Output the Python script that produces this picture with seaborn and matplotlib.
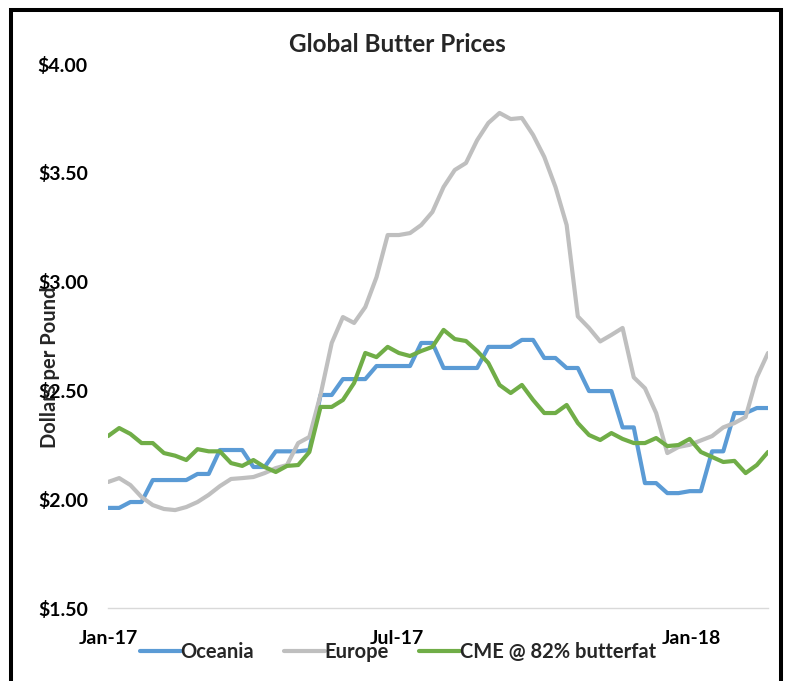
import pandas as pd
import seaborn as sns
import matplotlib.pyplot as plt
import matplotlib.dates as mdates
from matplotlib.lines import Line2D
from matplotlib.patches import Rectangle

sns.set_style("white")
plt.rcParams['font.family'] = ['Lato', 'DejaVu Sans']
plt.rcParams['font.weight'] = 'bold'

# ======================
# weekly prices, $/lb (first week Jan 2017 -> mid Feb 2018)

start_date = '2017-01-01'

oceania = [1.96, 1.96, 1.987, 1.987, 2.088, 2.088, 2.088, 2.088, 2.116, 2.116,
           2.226, 2.226, 2.226, 2.148, 2.148, 2.22, 2.22, 2.22, 2.226, 2.479,
           2.479, 2.552, 2.552, 2.552, 2.612, 2.612, 2.612, 2.612, 2.718, 2.718,
           2.603, 2.603, 2.603, 2.603, 2.70, 2.70, 2.70, 2.732, 2.732, 2.649,
           2.649, 2.603, 2.603, 2.497, 2.497, 2.497, 2.33, 2.33, 2.074, 2.074,
           2.028, 2.028, 2.037, 2.037, 2.22, 2.22, 2.396, 2.396, 2.419, 2.419]

europe = [2.079, 2.097, 2.065, 2.01, 1.973, 1.955, 1.95, 1.964, 1.987, 2.02,
          2.06, 2.093, 2.097, 2.102, 2.12, 2.143, 2.157, 2.258, 2.286, 2.48,
          2.718, 2.837, 2.81, 2.883, 3.02, 3.214, 3.214, 3.223, 3.26, 3.32,
          3.435, 3.513, 3.545, 3.65, 3.729, 3.775, 3.747, 3.752, 3.674, 3.573,
          3.435, 3.26, 2.84, 2.787, 2.725, 2.755, 2.787, 2.56, 2.51, 2.396,
          2.212, 2.24, 2.25, 2.27, 2.29, 2.33, 2.35, 2.378, 2.56, 2.672]

cme = [2.29, 2.327, 2.30, 2.258, 2.258, 2.212, 2.20, 2.18, 2.23, 2.22,
       2.22, 2.166, 2.153, 2.18, 2.148, 2.125, 2.153, 2.157, 2.217, 2.424,
       2.424, 2.456, 2.534, 2.672, 2.653, 2.70, 2.672, 2.658, 2.681, 2.70,
       2.778, 2.736, 2.727, 2.681, 2.626, 2.525, 2.488, 2.525, 2.456, 2.396,
       2.396, 2.433, 2.35, 2.295, 2.272, 2.304, 2.277, 2.258, 2.258, 2.281,
       2.244, 2.249, 2.277, 2.217, 2.194, 2.171, 2.176, 2.12, 2.157, 2.217]

series_names = ['Oceania', 'Europe', 'CME @ 82% butterfat']
series_colors = ['#5B9BD5', '#BFBFBF', '#70AD47']
tick_dates = ['2017-01-01', '2017-07-01', '2018-01-01']

dates = pd.date_range(start_date, periods=len(cme), freq='7D')
df = pd.DataFrame({'date': dates, 'Oceania': oceania, 'Europe': europe,
                   'CME @ 82% butterfat': cme})
df_long = df.melt(id_vars='date', var_name='series', value_name='price')

# ======================
# plot

fig = plt.figure(figsize=(7.86, 6.81), dpi=100)
ax = fig.add_axes([108 / 786, 73 / 681, 660 / 786, 544 / 681])

sns.lineplot(data=df_long, x='date', y='price', hue='series',
             hue_order=series_names, palette=series_colors,
             linewidth=3.0, ax=ax, legend=False)
for line in ax.get_lines():
    line.set_solid_joinstyle('round')

ax.set_xlim(dates[0], dates[-1])
ax.set_ylim(1.5, 4.0)
ax.set_yticks([1.5, 2.0, 2.5, 3.0, 3.5, 4.0])
ax.yaxis.set_major_formatter(plt.FuncFormatter(lambda v, p: '${:.2f}'.format(v)))
ax.set_xticks(pd.to_datetime(tick_dates))
ax.xaxis.set_major_formatter(mdates.DateFormatter('%b-%y'))
ax.tick_params(axis='both', length=0, labelsize=14, colors='black')
ax.tick_params(axis='y', pad=14.5)
ax.tick_params(axis='x', pad=15.5)
ax.set_xlabel('')
ax.set_ylabel('')

for side in ['top', 'right', 'left']:
    ax.spines[side].set_visible(False)
ax.spines['bottom'].set_color('#D9D9D9')
ax.spines['bottom'].set_linewidth(1.0)

fig.text(397 / 786, 1 - 44 / 681, 'Global Butter Prices', ha='center',
         va='center', fontsize=17.5, fontweight='bold')
fig.text(50 / 786, 1 - 367 / 681, 'Dollars per Pound', rotation=90,
         ha='center', va='center', fontsize=14.5, fontweight='bold')

handles = [Line2D([], [], color=c, linewidth=3.0) for c in series_colors]
fig.legend(handles, series_names, loc='center', ncol=3, frameon=False,
           bbox_to_anchor=(398 / 786, 29 / 681), fontsize=14.5,
           handlelength=2.0, handletextpad=0.0, columnspacing=1.5,
           borderpad=0, borderaxespad=0)

# frame around the chart (bottom edge falls outside the picture)
fig.patches.append(Rectangle((11 / 786, -0.05), 770 / 786, 671 / 681 + 0.05,
                             transform=fig.transFigure, fill=False,
                             edgecolor='black', linewidth=2.9))

plt.savefig('out.png', dpi=100)
plt.close()
